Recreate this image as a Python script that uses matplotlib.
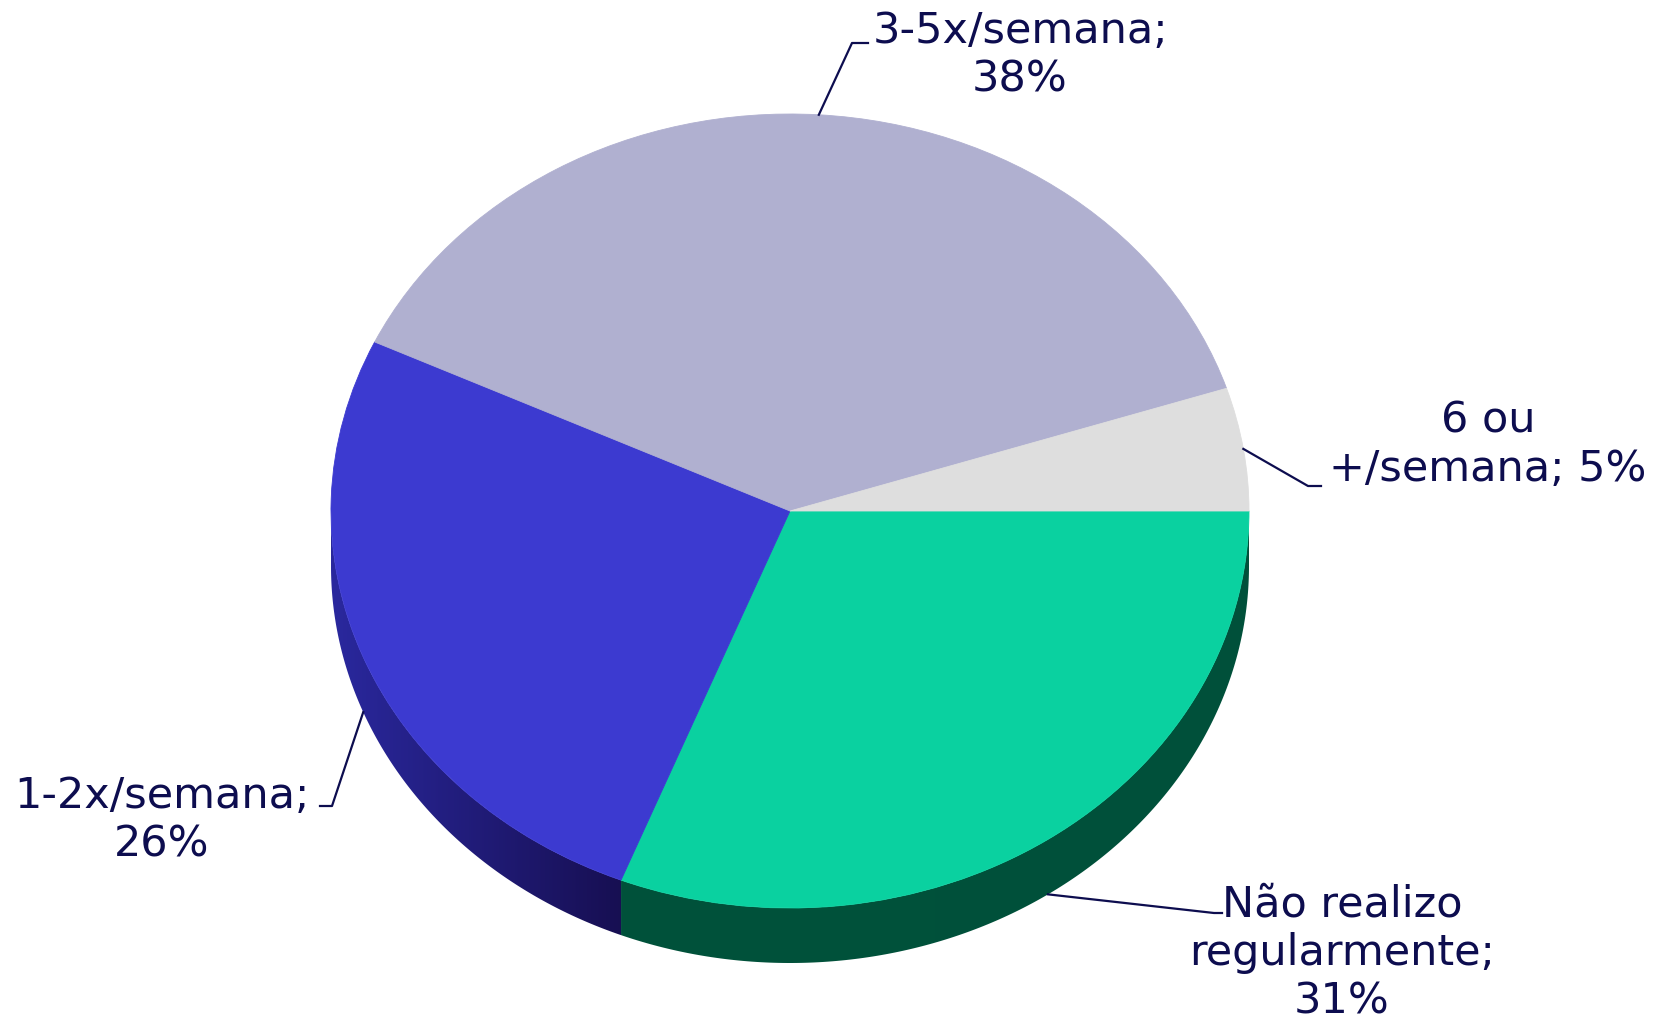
import numpy as np
import matplotlib.pyplot as plt
from matplotlib.colors import to_rgb
from matplotlib.patches import Polygon

# dados (fatias em sentido horario a partir das 3h)
categorias = ["Não realizo regularmente", "1-2x/semana", "3-5x/semana", "6 ou +/semana"]
percentuais = [31, 26, 38, 5]
rotulos = ["Não realizo\nregularmente;\n31%", "1-2x/semana;\n26%", "3-5x/semana;\n38%", "6 ou\n+/semana; 5%"]

cores_topo = ["#0ad1a0", "#3c3ad0", "#b0b0d0", "#dedede"]
# cor lateral: (lado esquerdo, lado direito)
cores_lado = [("#00523b", "#00503a"), ("#2a289e", "#170f52"), ("#8c8cb0", "#8c8cb0"), ("#b0b0b0", "#b0b0b0")]
navy = "#0d0d4f"

W, H = 1670, 1026
cx, cy, rx, ry, depth = 790, 511, 459, 397, 55
d = depth / ry

def to_data(px, py):
	return ((px - cx) / rx, (cy - py) / ry)

# posicoes dos rotulos (pixels): cotovelo, fim da linha, centro do texto
pos_rot = [
	((1214, 913), (1222, 913), (1342, 953)),
	((332, 806), (320, 806), (162, 820)),
	((852, 43), (868, 43), (1020, 55)),
	((1308, 486), (1321, 486), (1488, 445)),
]

fig = plt.figure(figsize=(W/100, H/100), dpi=100)
ax = fig.add_axes([0, 0, 1, 1])

wedges, _ = ax.pie(percentuais, colors=cores_topo, startangle=0, counterclock=False,
	wedgeprops=dict(linewidth=0.6))
for w, c in zip(wedges, cores_topo):
	w.set_edgecolor(c)
	w.set_zorder(3)

# laterais (parte visivel: -180..0 graus), com degrade horizontal
for w, (c0, c1) in zip(wedges, cores_lado):
	lo, hi = max(w.theta1, -180), min(w.theta2, 0)
	if lo >= hi:
		continue
	t = np.deg2rad(np.linspace(lo, hi, 200))
	xs, ys = np.cos(t), np.sin(t)
	pts = np.column_stack([np.concatenate([xs, xs[::-1]]),
		np.concatenate([ys, ys[::-1] - d])])
	poly = Polygon(pts, closed=True, facecolor="none", edgecolor="none")
	ax.add_patch(poly)
	grad = np.linspace(0, 1, 256)[None, :, None]
	img = (1 - grad) * np.array(to_rgb(c0)) + grad * np.array(to_rgb(c1))
	im = ax.imshow(img, extent=(pts[:, 0].min(), pts[:, 0].max(), pts[:, 1].min(), pts[:, 1].max()),
		aspect="auto", origin="lower", zorder=1, interpolation="bilinear")
	im.set_clip_path(poly)

# rotulos com linhas de chamada
for w, txt, (cot, fim, tpos) in zip(wedges, rotulos, pos_rot):
	m = np.deg2rad((w.theta1 + w.theta2) / 2)
	axx, ayy = np.cos(m), np.sin(m)
	if ayy < 0:
		ayy -= d
	ex, ey = to_data(*cot)
	hx, hy = to_data(*fim)
	ax.plot([axx, ex, hx], [ayy, ey, hy], color=navy, lw=1.6, zorder=4)
	tx, ty = to_data(*tpos)
	ax.text(tx, ty, txt, ha="center", va="center", fontsize=31, color=navy,
		linespacing=1.2, family="DejaVu Sans", zorder=5)

ax.set_aspect("auto")
ax.set_xlim(to_data(0, 0)[0], to_data(W, 0)[0])
ax.set_ylim(to_data(0, H)[1], to_data(0, 0)[1])
ax.axis("off")

fig.savefig("out.png", dpi=100, facecolor="white")
